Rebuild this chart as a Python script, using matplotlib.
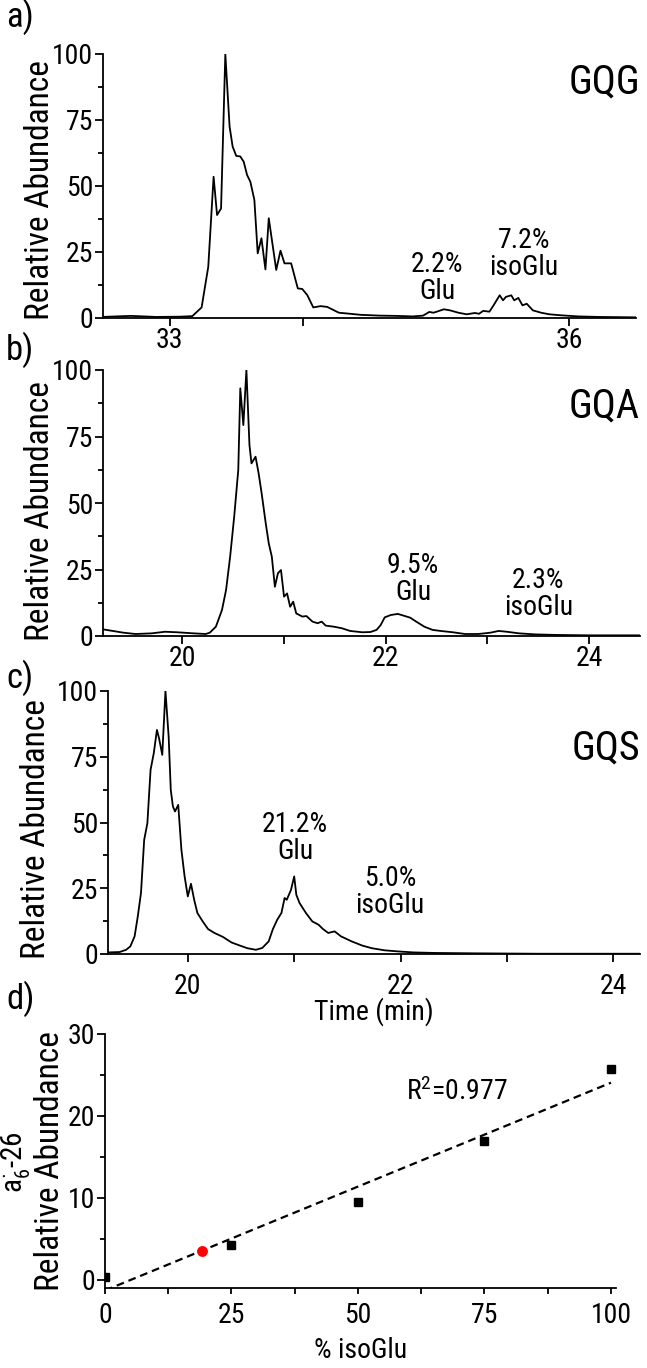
import matplotlib
matplotlib.use("Agg")
import matplotlib.pyplot as plt
import numpy as np

FONT = ['Roboto Condensed', 'Liberation Sans', 'DejaVu Sans']
plt.rcParams['font.family'] = FONT
plt.rcParams['mathtext.fontset'] = 'custom'
plt.rcParams['mathtext.rm'] = FONT[0]
plt.rcParams['mathtext.it'] = FONT[0]
plt.rcParams['axes.linewidth'] = 1.3

# ---- GQG extracted ion chromatogram ----
gqg_time = [32.49, 32.71, 32.90, 33.08, 33.17, 33.24, 33.29, 33.33, 33.356, 33.386, 33.418,
            33.45, 33.473, 33.50, 33.53, 33.556, 33.581, 33.606, 33.636, 33.661, 33.689,
            33.719, 33.744, 33.80, 33.832, 33.862, 33.912, 33.932, 33.962, 33.995, 34.033,
            34.078, 34.133, 34.183, 34.27, 34.334, 34.434, 34.576, 34.70, 34.825, 34.902,
            34.949, 34.98, 35.011, 35.058, 35.104, 35.167, 35.229, 35.291, 35.322, 35.353,
            35.40, 35.431, 35.477, 35.502, 35.524, 35.564, 35.586, 35.617, 35.648, 35.68,
            35.726, 35.788, 35.85, 35.944, 36.068, 36.224, 36.50]
gqg_abund = [0.4, 0.8, 0.4, 0.5, 0.7, 4.0, 19.4, 53.5, 39.0, 41.5, 100.0,
             72.5, 64.9, 61.4, 61.2, 59.2, 54.2, 51.6, 44.7, 24.5, 30.2,
             18.4, 37.8, 18.2, 25.5, 20.7, 20.7, 16.9, 11.2, 11.0, 8.7,
             4.0, 4.5, 4.2, 2.0, 1.7, 1.2, 0.9, 0.8, 0.6, 0.9,
             2.3, 2.0, 2.5, 3.3, 2.9, 2.0, 1.4, 1.9, 1.6, 2.7,
             2.4, 4.8, 8.6, 6.7, 8.0, 8.6, 6.7, 7.6, 4.8, 5.4,
             2.9, 2.0, 1.4, 1.0, 0.6, 0.4, 0.25]

# ---- GQA extracted ion chromatogram ----
gqa_time = [19.22, 19.42, 19.54, 19.70, 19.83, 19.95, 20.11, 20.23, 20.27, 20.33, 20.39,
            20.43, 20.47, 20.51, 20.55, 20.57, 20.60, 20.63, 20.66, 20.68, 20.72, 20.75,
            20.78, 20.82, 20.85, 20.88, 20.91, 20.94, 20.97, 21.00, 21.03, 21.06, 21.09,
            21.12, 21.18, 21.22, 21.28, 21.33, 21.37, 21.41, 21.49, 21.57, 21.65, 21.77,
            21.85, 21.91, 21.95, 21.99, 22.05, 22.12, 22.18, 22.24, 22.30, 22.38, 22.46,
            22.54, 22.66, 22.78, 22.91, 23.03, 23.11, 23.19, 23.31, 23.47, 23.68, 24.00, 24.49]
gqa_abund = [2.5, 1.25, 0.75, 1.0, 1.6, 1.4, 1.0, 0.75, 1.25, 3.5, 9.8,
             17.3, 29.8, 44.9, 62.4, 93.1, 79.3, 100.0, 71.8, 64.9, 67.4, 61.2,
             53.6, 42.4, 34.8, 29.8, 18.5, 23.6, 24.8, 14.8, 16.0, 11.0, 12.9,
             8.5, 7.3, 7.5, 5.4, 4.8, 5.4, 3.9, 3.5, 2.9, 1.9, 1.4,
             1.5, 2.3, 4.1, 7.0, 7.9, 8.3, 7.6, 6.9, 5.4, 3.5, 2.3,
             1.9, 1.4, 0.75, 0.75, 1.25, 1.9, 1.6, 1.0, 0.6, 0.4, 0.25, 0.25]

# ---- GQS extracted ion chromatogram ----
gqs_time = [19.25, 19.36, 19.42, 19.46, 19.50, 19.53, 19.56, 19.59, 19.62, 19.65, 19.68,
            19.71, 19.73, 19.76, 19.79, 19.82, 19.84, 19.86, 19.88, 19.91, 19.94, 19.97,
            20.00, 20.03, 20.06, 20.09, 20.14, 20.19, 20.25, 20.33, 20.41, 20.49, 20.56,
            20.64, 20.70, 20.76, 20.80, 20.84, 20.88, 20.91, 20.93, 20.97, 21.00, 21.02,
            21.05, 21.11, 21.17, 21.23, 21.27, 21.32, 21.38, 21.44, 21.54, 21.64, 21.73,
            21.85, 21.97, 22.12, 22.32, 22.71, 23.29, 24.25]
gqs_abund = [0.6, 0.75, 1.6, 2.9, 6.7, 14.3, 23.2, 43.4, 49.7, 70.0, 76.3,
             85.2, 82.0, 75.7, 100.0, 82.7, 62.4, 56.1, 54.2, 56.7, 39.6, 29.5,
             21.9, 26.7, 20.6, 15.6, 12.4, 9.5, 8.0, 6.5, 4.4, 3.2, 2.2,
             1.6, 2.3, 4.8, 9.5, 13.0, 15.6, 21.3, 20.6, 24.4, 29.5, 22.5,
             19.4, 15.6, 12.4, 11.1, 9.5, 8.0, 8.6, 6.7, 4.8, 3.2, 2.2,
             1.4, 1.0, 0.6, 0.4, 0.25, 0.1, 0.1]

# ---- calibration: a6-26 fragment abundance vs. isoGlu content ----
calib_iso_pct = [0, 25, 50, 75, 100]
calib_abund = [0.37, 4.27, 9.55, 17.0, 25.7]
sample_iso_pct = [19.1]
sample_abund = [3.55]

W, H = 647, 1368
fig = plt.figure(figsize=(W / 100, H / 100), dpi=100)

TICK = 20
LABEL = 24
ANNOT = 20
TAG = 29


def rect(left, top, right, bottom):
    return [left / W, 1 - bottom / H, (right - left) / W, (bottom - top) / H]


def ftext(x, y, s, **kw):
    fig.text(x / W, 1 - y / H, s, **kw)


def style(ax, yminor, xpad=1.0):
    ax.spines['top'].set_visible(False)
    ax.spines['right'].set_visible(False)
    ax.tick_params(which='both', direction='out', width=1.3, labelsize=TICK, colors='black')
    ax.tick_params(axis='x', which='both', length=5.5, pad=xpad)
    ax.tick_params(axis='y', which='major', length=5.5, pad=1.5)
    ax.tick_params(axis='y', which='minor', length=3.5)
    ax.set_yticks(yminor, minor=True)


def annotate(ax, x, y, s):
    ax.text(x, y, s, ha='center', va='center', fontsize=ANNOT, linespacing=1.0)


chrom_kw = dict(color='black', lw=1.3)
yt = [0, 25, 50, 75, 100]
ym = [12.5, 37.5, 62.5, 87.5]

# a) GQG
ax_a = fig.add_axes(rect(103, 54, 636, 318))
ax_a.plot(gqg_time, gqg_abund, **chrom_kw)
ax_a.set_xlim(32.5, 36.5)
ax_a.set_ylim(0, 100)
ax_a.set_yticks(yt)
ax_a.set_xticks([33, 36])
ax_a.set_xticks([34], minor=True)
style(ax_a, ym)
ax_a.text(1.0075, 0.894, 'GQG', transform=ax_a.transAxes, ha='right', va='center', fontsize=TAG)
annotate(ax_a, 35.01, 15.3, '2.2%\nGlu')
annotate(ax_a, 35.66, 24.2, '7.2%\nisoGlu')

# b) GQA
ax_b = fig.add_axes(rect(103, 370, 640, 636))
ax_b.plot(gqa_time, gqa_abund, **chrom_kw)
ax_b.set_xlim(19.22, 24.5)
ax_b.set_ylim(0, 100)
ax_b.set_yticks(yt)
ax_b.set_xticks([20, 22, 24])
ax_b.set_xticks([21, 23], minor=True)
style(ax_b, ym)
ax_b.text(1.0, 0.865, 'GQA', transform=ax_b.transAxes, ha='right', va='center', fontsize=TAG)
annotate(ax_b, 22.27, 21.4, '9.5%\nGlu')
annotate(ax_b, 23.50, 15.8, '2.3%\nisoGlu')

# c) GQS
ax_c = fig.add_axes(rect(108, 691, 640, 954))
ax_c.plot(gqs_time, gqs_abund, **chrom_kw)
ax_c.set_xlim(19.25, 24.25)
ax_c.set_ylim(0, 100)
ax_c.set_yticks(yt)
ax_c.set_xticks([20, 22, 24])
ax_c.set_xticks([21, 23], minor=True)
style(ax_c, ym, xpad=8)
ax_c.text(1.0, 0.783, 'GQS', transform=ax_c.transAxes, ha='right', va='center', fontsize=TAG)
annotate(ax_c, 21.01, 44.1, '21.2%\nGlu')
annotate(ax_c, 21.90, 23.4, '5.0%\nisoGlu')
ax_c.set_xlabel('Time (min)', fontsize=TICK, labelpad=-2)

for ax, xc, yc in ((ax_a, -0.118, 0.485), (ax_b, -0.117, 0.47), (ax_c, -0.135, 0.475)):
    ax.set_ylabel('Relative Abundance', fontsize=LABEL)
    ax.yaxis.label.set(va='center')
    ax.yaxis.set_label_coords(xc, yc)

# d) calibration
ax_d = fig.add_axes(rect(105, 1034, 616, 1288))
slope, intercept = np.polyfit(calib_iso_pct, calib_abund, 1)
fit_x = np.array([0, 100])
ax_d.plot(fit_x, slope * fit_x + intercept, color='black', lw=1.6, ls=(0, (3.5, 2.2)))
ax_d.plot(calib_iso_pct, calib_abund, 's', color='black', ms=6)
ax_d.plot(sample_iso_pct, sample_abund, 'o', color='red', ms=6.8)
ax_d.set_xlim(0, 101)
ax_d.set_ylim(-1, 30)
ax_d.set_xticks([0, 25, 50, 75, 100])
ax_d.set_xticks([12.5, 37.5, 62.5, 87.5], minor=True)
ax_d.set_yticks([0, 10, 20, 30])
style(ax_d, [5, 15, 25])
ax_d.tick_params(axis='x', which='both', length=4, pad=6)
ax_d.text(69.6, 22.9, r'R$^2$=0.977', ha='center', va='center', fontsize=ANNOT)
ax_d.set_xlabel('% isoGlu', fontsize=TICK, labelpad=6)
ax_d.set_ylabel('Relative Abundance', fontsize=LABEL)
ax_d.yaxis.label.set(va='center')
ax_d.yaxis.set_label_coords(-0.108, 0.5)
ftext(16, 1162, r'a$_6^{\cdot}$-26', rotation=90, ha='center', va='center', fontsize=21)

# panel letters
for s, y in (('a)', 17), ('b)', 350), ('c)', 678), ('d)', 999)):
    ftext(6, y, s, ha='left', va='center', fontsize=25)

fig.savefig('out.png', dpi=100)
